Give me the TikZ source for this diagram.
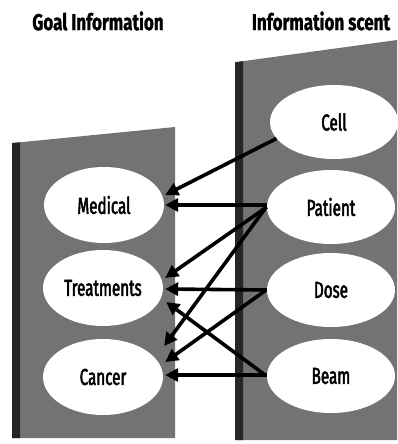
\documentclass[tikz,border=0pt]{standalone}
\usepackage{fontspec}
\usetikzlibrary{shapes.geometric,arrows.meta,calc}
\newfontfamily\titlefont[FakeStretch=0.74,FakeBold=1]{Fira Sans}
\newfontfamily\labfont[FakeStretch=0.66,FakeBold=2.2]{Fira Sans}
\tikzset{
  panel/.style={fill=black!55, draw=none},
  sidebar/.style={fill=black!85, draw=none},
  oval/.style={ellipse, fill=white, draw=none, inner sep=0pt, font=\labfont\fontsize{23}{25}\selectfont},
  leftoval/.style={oval, minimum width=120pt, minimum height=76pt},
  rightoval/.style={oval, minimum width=128pt, minimum height=74pt},
  heading/.style={font=\titlefont\bfseries\fontsize{23}{25}\selectfont, inner sep=0pt},
  link/.style={line width=3.6pt, -{Triangle[length=13pt,width=13pt]}}
}
\begin{document}
\begin{tikzpicture}[x=1pt,y=-1pt]
\useasboundingbox (0,0) rectangle (397,444);
% headings
\node[heading] (h1) at (98,21) {Goal Information};
\node[heading] (h2) at (321,21) {Information scent};
% panels
\fill[panel] (13,143) -- (175,127) -- (175,438) -- (13,438) -- cycle;
\fill[sidebar] (12,143) -- (20,142.3) -- (20,438) -- (12,438) -- cycle;
\fill[panel] (237,62) -- (397,40) -- (397,440) -- (237,440) -- cycle;
\fill[sidebar] (235,62.3) -- (243,61.2) -- (243,440) -- (235,440) -- cycle;
% ovals
\node[leftoval] (medical) at (104,205) {Medical};
\node[leftoval] (treat) at (103,288) {Treatments};
\node[leftoval] (cancer) at (103,377) {Cancer};
\node[rightoval] (cell) at (334,122) {Cell};
\node[rightoval] (patient) at (331,207) {Patient};
\node[rightoval] (dose) at (331,290) {Dose};
\node[rightoval] (beam) at (331,376) {Beam};
% links
\draw[link] (cell.196) -- ($(medical.east)+(1,-10)$);
\draw[link] ($(patient.west)+(0,-2)$) -- ($(medical.east)+(1,0)$);
\draw[link] (patient.west) -- ($(treat.east)+(2,-10)$);
\draw[link] ($(patient.west)+(-2,2)$) -- ($(cancer.east)+(1,-31)$);
\draw[link] (dose.west) -- ($(treat.east)+(2,1)$);
\draw[link] ($(dose.west)+(-2,1)$) -- ($(cancer.east)+(2,-15)$);
\draw[link] ($(beam.west)+(-3,-2)$) -- ($(treat.east)+(3,14)$);
\draw[link] ($(beam.west)+(0,-1)$) -- ($(cancer.east)+(2,-2)$);
\end{tikzpicture}
\end{document}
